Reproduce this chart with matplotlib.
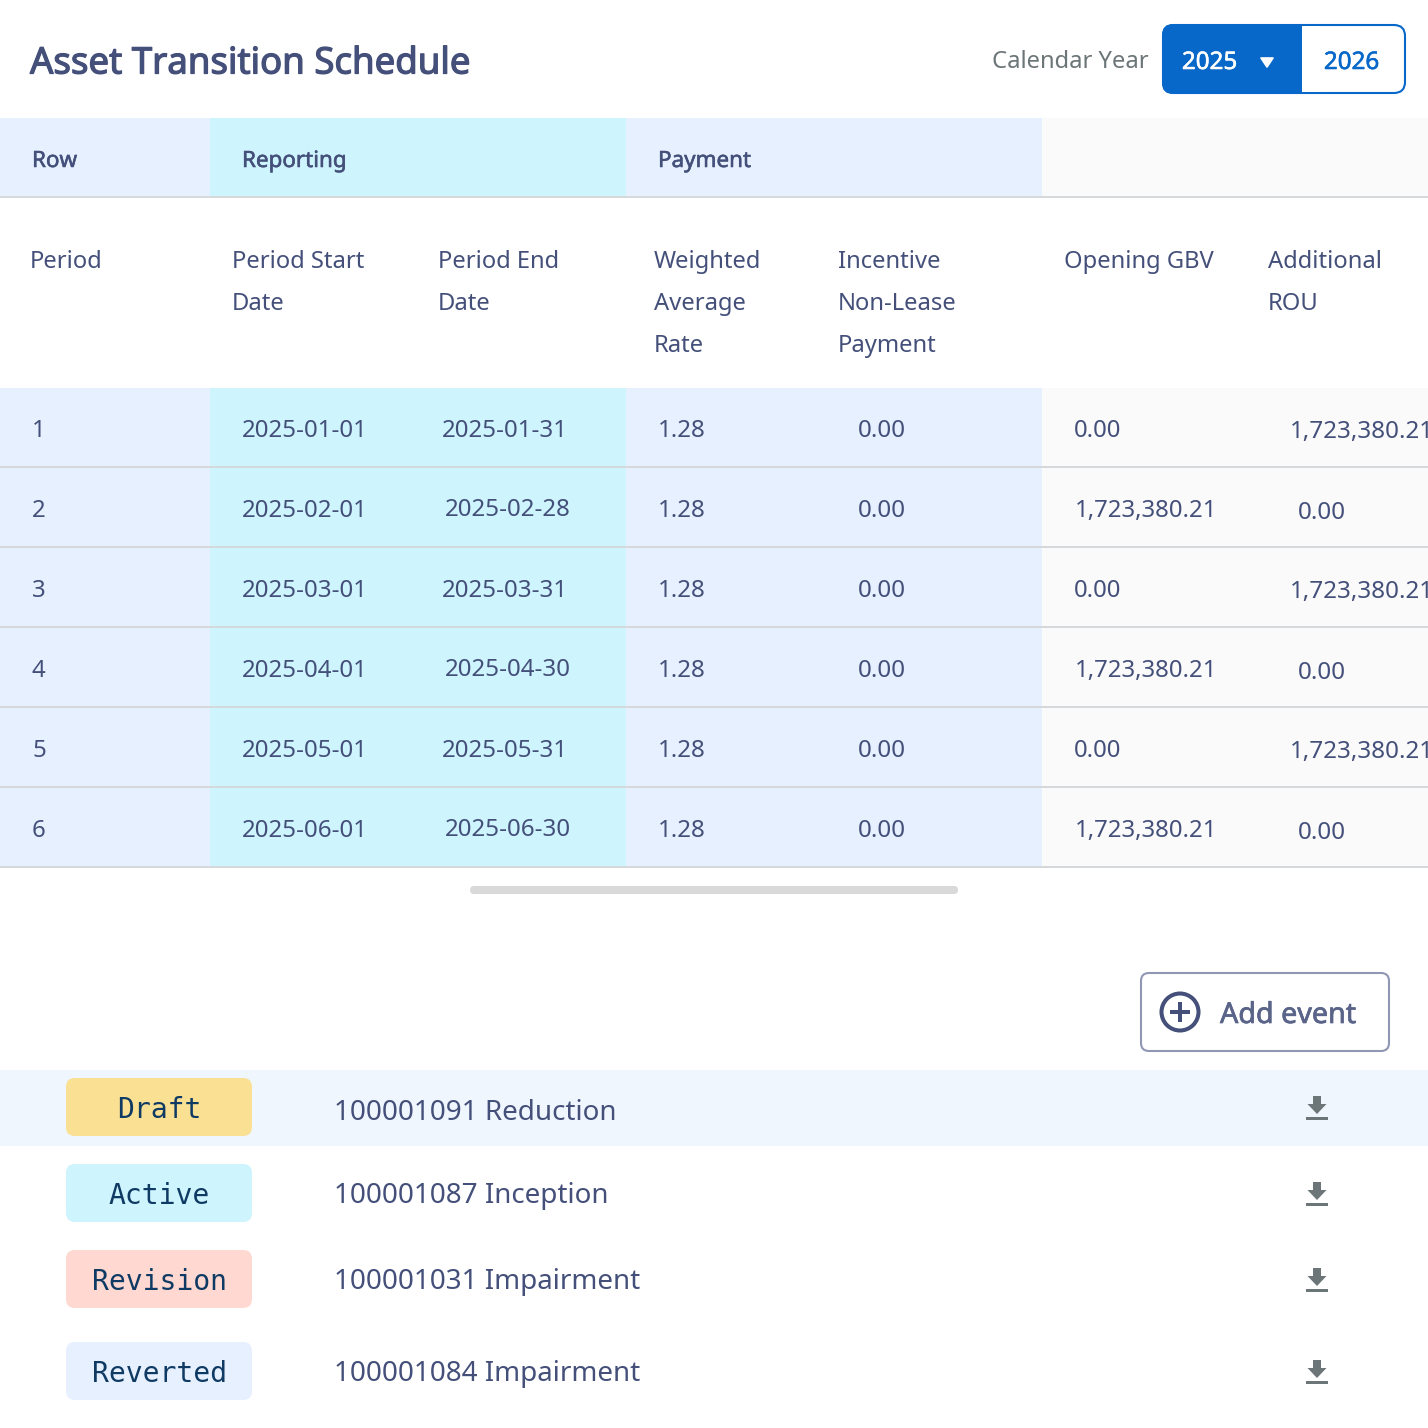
#!/usr/bin/env python3
# asset transition schedule card

import matplotlib
matplotlib.use("Agg")
import matplotlib.pyplot as plt
import matplotlib.patheffects as pe
from matplotlib.patches import Rectangle, FancyBboxPatch, Circle, Polygon

SIZE = 1428

# table data
periods = ["1", "2", "3", "4", "5", "6"]
start_dates = ["2025-01-01", "2025-02-01", "2025-03-01", "2025-04-01", "2025-05-01", "2025-06-01"]
end_dates = ["2025-01-31", "2025-02-28", "2025-03-31", "2025-04-30", "2025-05-31", "2025-06-30"]
rates = ["1.28", "1.28", "1.28", "1.28", "1.28", "1.28"]
incentives = ["0.00", "0.00", "0.00", "0.00", "0.00", "0.00"]
opening_gbv = ["0.00", "1,723,380.21", "0.00", "1,723,380.21", "0.00", "1,723,380.21"]
additional_rou = ["1,723,380.21", "0.00", "1,723,380.21", "0.00", "1,723,380.21", "0.00"]

group_labels = ["Row", "Reporting", "Payment"]
column_labels = ["Period", "Period Start\nDate", "Period End\nDate", "Weighted\nAverage\nRate",
                 "Incentive\nNon-Lease\nPayment", "Opening GBV", "Additional\nROU"]

# events list
event_status = ["Draft", "Active", "Revision", "Reverted"]
event_names = ["100001091 Reduction", "100001087 Inception", "100001031 Impairment", "100001084 Impairment"]
event_colors = ["#fae093", "#cef4fd", "#ffd8d1", "#e6f0ff"]

years = ["2025", "2026"]

NAVY = "#44507a"
BLUE = "#0868c9"
GREY = "#6c7679"
LINE = "#d6d9db"
ROW_BLUE = "#e6f0ff"
ROW_CYAN = "#cef4fd"
ROW_GREY = "#fafafa"


def px(size):
    # css pixels to points at dpi 100
    return size * 0.72


def rect(ax, x0, y0, x1, y1, color, z=1):
    ax.add_patch(Rectangle((x0, y0), x1 - x0, y1 - y0, facecolor=color, edgecolor="none", zorder=z))


def rounded(ax, x0, y0, x1, y1, r, face, edge="none", lw=0, z=2):
    ax.add_patch(FancyBboxPatch((x0 + r, y0 + r), x1 - x0 - 2 * r, y1 - y0 - 2 * r,
                                boxstyle=f"round,pad={r},rounding_size={r}",
                                facecolor=face, edgecolor=edge, linewidth=lw, zorder=z))


def label(ax, x, y, s, size=18.5, color=NAVY, ha="left", stroke=0, **kw):
    # the installed Noto Sans only has a regular weight here, heavier text gets a thin outline
    t = ax.text(x, y, s, fontsize=px(size), color=color, ha=ha, va="center_baseline", zorder=5, **kw)
    if stroke:
        t.set_path_effects([pe.withStroke(linewidth=stroke, foreground=color)])
    return t


def download_icon(ax, cx, cy, color=GREY):
    rect(ax, cx - 4, cy - 13, cx + 4, cy - 4, color, z=4)
    ax.add_patch(Polygon([(cx - 9.5, cy - 5), (cx + 9.5, cy - 5), (cx, cy + 5)],
                         facecolor=color, edgecolor="none", zorder=4))
    rect(ax, cx - 11, cy + 8, cx + 11, cy + 11, color, z=4)


plt.rcParams["font.family"] = ["Noto Sans", "DejaVu Sans"]

fig = plt.figure(figsize=(SIZE / 100, SIZE / 100), dpi=100, facecolor="white")
ax = fig.add_axes([0, 0, 1, 1])
ax.set_xlim(0, SIZE)
ax.set_ylim(SIZE, 0)
ax.axis("off")

# header
label(ax, 30, 60, "Asset Transition Schedule", size=36.6, stroke=0.9)
label(ax, 992, 59, "Calendar Year", size=23.8, color=GREY)

# year switch
rounded(ax, 1163, 25, 1405, 93, 11, "white", BLUE, 1.5)
rounded(ax, 1162, 24, 1320, 94, 11, BLUE, z=3)
rect(ax, 1301, 26, 1321, 92, "white", z=3)
rect(ax, 1301, 24, 1321, 26, BLUE, z=3)
rect(ax, 1301, 92, 1321, 94, BLUE, z=3)
rect(ax, 1300, 24, 1302, 94, BLUE, z=3)
label(ax, 1209.5, 60, years[0], size=24.2, color="white", ha="center", stroke=0.4)
label(ax, 1351.5, 60, years[1], size=24.2, color=BLUE, ha="center", stroke=0.4)
ax.add_patch(Polygon([(1261, 58), (1273, 58), (1267, 67)], facecolor="white", edgecolor="white",
                     linewidth=1.2, joinstyle="round", zorder=5))

# group header band
rect(ax, 0, 118, 210, 196, ROW_BLUE)
rect(ax, 210, 118, 626, 196, ROW_CYAN)
rect(ax, 626, 118, 1042, 196, ROW_BLUE)
rect(ax, 1042, 118, SIZE, 196, ROW_GREY)
rect(ax, 0, 196, SIZE, 198, LINE, z=2)
for x, s in zip([32, 242, 658], group_labels):
    label(ax, x, 159, s, size=22.4, stroke=0.4)

# column header
for x, s in zip([30, 232, 438, 654, 838, 1064, 1268], column_labels):
    for i, part in enumerate(s.split("\n")):
        label(ax, x, 259 + i * 42, part, size=23.8)

# table rows
row_h = 80
for i in range(len(periods)):
    top = 388 + i * row_h
    bot = top + row_h
    rect(ax, 0, top, 210, bot, ROW_BLUE)
    rect(ax, 210, top, 626, bot, ROW_CYAN)
    rect(ax, 626, top, 1042, bot, ROW_BLUE)
    rect(ax, 1042, top, SIZE, bot, ROW_GREY)
    rect(ax, 0, bot - 2, SIZE, bot, LINE, z=2)
    mid = top + 40
    even = i % 2 == 1
    label(ax, 32, mid, periods[i], size=24)
    label(ax, 242, mid, start_dates[i], size=24.1)
    label(ax, 445 if even else 442, mid - 1 if even else mid, end_dates[i], size=24.1)
    label(ax, 658, mid, rates[i], size=24.2)
    label(ax, 858, mid, incentives[i], size=24.2)
    label(ax, 1075 if even else 1074, mid, opening_gbv[i], size=24)
    label(ax, 1298 if even else 1290, mid + 2 if even else mid + 1, additional_rou[i], size=24.2, clip_on=True)

# scrollbar
rounded(ax, 470, 886, 958, 894, 4, "#d9d9d9")

# add event button
rounded(ax, 1141, 973, 1389, 1051, 8, "white", "#9097b4", 1.5)
ax.add_patch(Circle((1180, 1012), 18.5, facecolor="none", edgecolor=NAVY, linewidth=2.9, zorder=5))
rect(ax, 1170, 1010, 1190, 1014, NAVY, z=5)
rect(ax, 1178, 1002, 1182, 1022, NAVY, z=5)
label(ax, 1220, 1012, "Add event", size=28.7, color="#5a6489", stroke=0.5)

# event list
rect(ax, 0, 1070, SIZE, 1146, "#eff6fd")
badge_tops = [1078, 1164, 1250, 1342]
text_ys = [1110, 1193, 1279, 1371]
icon_ys = [1109, 1195, 1281, 1373]
for status, name, color, top, ty, iy in zip(event_status, event_names, event_colors, badge_tops, text_ys, icon_ys):
    rounded(ax, 66, top, 252, top + 58, 9, color)
    ax.text(159, top + 29, status, fontsize=px(28.1), color="#0f3a63", ha="center", va="center_baseline",
            family=["DejaVu Sans Mono"], zorder=5)
    label(ax, 334, ty, name, size=27.8)
    download_icon(ax, 1317, iy)

fig.savefig("out.png", dpi=100, facecolor="white")
